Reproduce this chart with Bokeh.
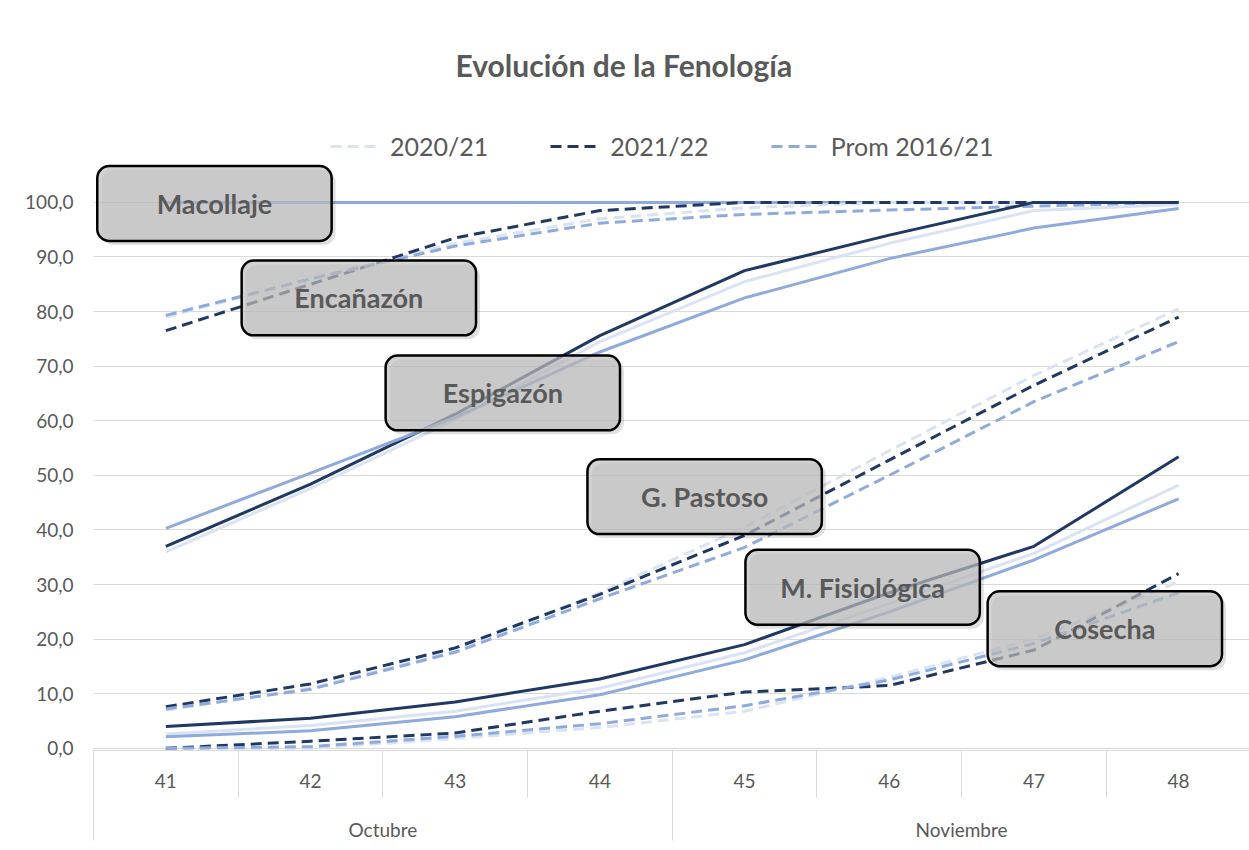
from bokeh.plotting import figure
from bokeh.models import (Range1d, LinearAxis, FixedTicker, Grid, Legend, LegendItem)
from bokeh.core.properties import value
from bokeh.embed import file_html
from bokeh.resources import INLINE

# ---------------- data ----------------
weeks = ["41", "42", "43", "44", "45", "46", "47", "48"]
months = ["Octubre", "Noviembre"]
weeks_per_month = [4, 4]
y_ticks = [0, 10, 20, 30, 40, 50, 60, 70, 80, 90, 100]
y_tick_labels = ["0,0", "10,0", "20,0", "30,0", "40,0", "50,0", "60,0", "70,0", "80,0", "90,0", "100,0"]
series_names = ["2020/21", "2021/22", "Prom 2016/21"]

macollaje_2020 = [100.0, 100.0, 100.0, 100.0, 100.0, 100.0, 100.0, 100.0]
macollaje_2021 = [100.0, 100.0, 100.0, 100.0, 100.0, 100.0, 100.0, 100.0]
macollaje_prom = [100.0, 100.0, 100.0, 100.0, 100.0, 100.0, 100.0, 100.0]

encanazon_2020 = [79.0, 86.0, 92.5, 97.0, 99.0, 100.0, 100.0, 100.0]
encanazon_2021 = [76.5, 85.0, 93.5, 98.5, 100.0, 100.0, 100.0, 100.0]
encanazon_prom = [79.3, 86.0, 92.0, 96.2, 97.8, 98.6, 99.3, 100.0]

espigazon_2020 = [36.0, 47.6, 60.2, 74.5, 85.5, 92.5, 98.5, 99.6]
espigazon_2021 = [37.0, 48.4, 61.2, 75.6, 87.5, 94.0, 100.0, 100.0]
espigazon_prom = [40.3, 50.4, 60.6, 72.6, 82.5, 89.7, 95.3, 98.9]

pastoso_2020 = [7.0, 11.0, 17.8, 28.5, 40.5, 54.5, 68.3, 80.5]
pastoso_2021 = [7.6, 11.8, 18.4, 28.2, 39.0, 52.8, 66.5, 79.0]
pastoso_prom = [7.2, 10.8, 17.6, 27.4, 36.8, 50.0, 63.5, 74.5]

fisiologica_2020 = [2.6, 4.2, 6.8, 11.0, 17.5, 26.5, 35.7, 48.2]
fisiologica_2021 = [4.0, 5.5, 8.5, 12.7, 19.0, 28.5, 37.0, 53.4]
fisiologica_prom = [2.1, 3.2, 5.8, 9.8, 16.2, 25.0, 34.5, 45.7]

cosecha_2020 = [0.0, 0.0, 1.8, 3.8, 6.8, 13.0, 20.0, 30.5]
cosecha_2021 = [0.0, 1.3, 2.8, 6.8, 10.3, 11.5, 18.0, 32.0]
cosecha_prom = [0.0, 0.3, 2.2, 4.5, 7.8, 12.5, 19.2, 28.5]

phase_names = ["Macollaje", "Encañazón", "Espigazón", "G. Pastoso", "M. Fisiológica", "Cosecha"]
phase_series = [
    (macollaje_2020, macollaje_2021, macollaje_prom),
    (encanazon_2020, encanazon_2021, encanazon_prom),
    (espigazon_2020, espigazon_2021, espigazon_prom),
    (pastoso_2020, pastoso_2021, pastoso_prom),
    (fisiologica_2020, fisiologica_2021, fisiologica_prom),
    (cosecha_2020, cosecha_2021, cosecha_prom),
]
phase_dashed = [False, True, False, True, False, True]

# ---------------- styling / layout ----------------
colors = ["#dae3f3", "#203864", "#8faadc"]
text_color = "#595959"
grid_color = "#d9d9d9"
FONT = "Lato"

# label boxes (annotation placement): center x in category units, center y in %
box_cx = [0.836, 1.834, 2.829, 4.224, 5.316, 6.990]
box_cy = [99.8, 82.5, 65.1, 46.1, 29.5, 21.9]
box_w = 1.62
box_h = 13.7

p = figure(width=1249, height=850, output_backend="svg", toolbar_location=None,
           x_range=Range1d(0, 7.99), y_range=Range1d(-0.4, 115.0),
           x_axis_type=None, y_axis_type=None,
           min_border_left=93, min_border_right=0, min_border_top=120, min_border_bottom=100,
           background_fill_color="white", border_fill_color="white")
p.outline_line_color = None

xs = [i + 0.5 for i in range(len(weeks))]

# y axis
yticker = FixedTicker(ticks=y_ticks)
yaxis = LinearAxis(ticker=yticker,
                   major_label_overrides={t: l for t, l in zip(y_ticks, y_tick_labels)})
yaxis.axis_line_color = None
yaxis.major_tick_line_color = None
yaxis.minor_tick_line_color = None
yaxis.major_tick_out = 0
yaxis.major_tick_in = 0
yaxis.minor_tick_out = 0
yaxis.major_label_standoff = 20
yaxis.major_label_text_font = FONT
yaxis.major_label_text_font_size = "19px"
yaxis.major_label_text_color = text_color
p.add_layout(yaxis, "left")

grid = Grid(dimension=1, ticker=yticker, grid_line_color=grid_color, grid_line_width=1)
p.add_layout(grid)

# week axis
week_ticker = FixedTicker(ticks=xs, minor_ticks=list(range(len(weeks))))
waxis = LinearAxis(ticker=week_ticker,
                   major_label_overrides={x: w for x, w in zip(xs, weeks)})
waxis.axis_line_color = grid_color
waxis.major_tick_line_color = None
waxis.major_tick_out = 0
waxis.major_tick_in = 0
waxis.minor_tick_line_color = grid_color
waxis.minor_tick_out = 47
waxis.minor_tick_in = 0
waxis.major_label_standoff = -24
waxis.major_label_text_font = FONT
waxis.major_label_text_font_size = "19px"
waxis.major_label_text_color = text_color
p.add_layout(waxis, "below")

# month axis
month_centers = []
month_edges = []
start = 0
for n in weeks_per_month:
    month_edges.append(start)
    month_centers.append(start + n / 2)
    start += n
month_ticker = FixedTicker(ticks=month_centers, minor_ticks=month_edges)
maxis = LinearAxis(ticker=month_ticker,
                   major_label_overrides={c: m for c, m in zip(month_centers, months)})
maxis.axis_line_color = None
maxis.major_tick_line_color = None
maxis.major_tick_out = 0
maxis.major_tick_in = 0
maxis.minor_tick_line_color = grid_color
maxis.minor_tick_out = 50
maxis.minor_tick_in = 6
maxis.major_label_standoff = -23
maxis.major_label_text_font = FONT
maxis.major_label_text_font_size = "19px"
maxis.major_label_text_color = text_color
p.add_layout(maxis, "below")

# lines
legend_renderers = None
for k, (triple, dashed) in enumerate(zip(phase_series, phase_dashed)):
    rs = []
    for vals, col in zip(triple, colors):
        r = p.line(xs, vals, line_color=col, line_width=3,
                   line_dash="11 6" if dashed else "solid", line_join="round")
        rs.append(r)
    if dashed and legend_renderers is None:
        legend_renderers = rs

# label boxes
left = [c - box_w / 2 for c in box_cx]
right = [c + box_w / 2 for c in box_cx]
top = [c + box_h / 2 for c in box_cy]
bottom = [c - box_h / 2 for c in box_cy]
sx = 4 / 144.7
sy = 4 / 5.46
p.quad(left=[l + sx for l in left], right=[r + sx for r in right],
       top=[t - sy for t in top], bottom=[b - sy for b in bottom],
       fill_color="black", fill_alpha=0.12, line_color=None, border_radius=12)
p.quad(left=left, right=right, top=top, bottom=bottom,
       fill_color="#bfbfbf", fill_alpha=0.7, line_color="black", line_width=2.5,
       border_radius=12)
p.text(x=box_cx, y=box_cy, text=phase_names, text_align="center", text_baseline="middle",
       text_font=value(FONT), text_font_style="bold", text_font_size="27px",
       text_color=text_color)

# legend
legend = Legend(items=[LegendItem(label=n, renderers=[r]) for n, r in zip(series_names, legend_renderers)],
                orientation="horizontal", location=(237, 589))
legend.border_line_color = None
legend.background_fill_alpha = 0
legend.label_text_font = FONT
legend.label_text_font_size = "25px"
legend.label_text_color = text_color
legend.glyph_width = 48
legend.glyph_height = 24
legend.label_standoff = 12
legend.spacing = 62
legend.padding = 0
legend.margin = 0
p.add_layout(legend)

# title
p.title.text = "Evolución  de la Fenología"
p.title.text_font = FONT
p.title.text_font_size = "30px"
p.title.text_font_style = "bold"
p.title.text_color = text_color
p.title.align = "left"
p.title.offset = 362
p.title.standoff = 75

open("out.html", "w").write(file_html(p, INLINE))
